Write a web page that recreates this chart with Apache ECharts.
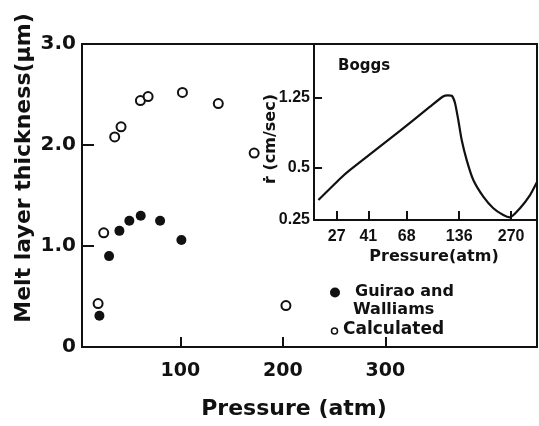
<!DOCTYPE html>
<html><head><meta charset="utf-8">
<script src="https://cdn.jsdelivr.net/npm/echarts@6/dist/echarts.min.js"></script>
<style>html,body{margin:0;padding:0;background:#fff}#c{width:539px;height:426px}</style>
</head><body><div id="c"></div>
<script>
// Main chart: melt layer thickness vs pressure
const guiraoX = [21, 30.4, 40.5, 50.2, 61.3, 80.2, 101];
const guiraoY = [0.31, 0.90, 1.15, 1.25, 1.30, 1.25, 1.06];
const calcX = [19.7, 25.2, 35.9, 42.1, 61, 68.5, 102, 137, 172, 203];
const calcY = [0.43, 1.13, 2.08, 2.18, 2.44, 2.48, 2.52, 2.41, 1.92, 0.41];
const mainXTicks = [100, 200, 300];
const mainYLabels = ['0', '1.0', '2.0', '3.0'];
// Inset (Boggs): burning rate vs pressure, log-log
const boggsP = [21.2, 28.2, 32.2, 62.2, 92.5, 109.9, 117, 123.6, 128.7, 134.4, 140.6, 150.2, 163.9, 187, 213.5, 243.5, 266, 303.6, 346.6, 380];
const boggsR = [0.325, 0.43, 0.483, 0.807, 1.11, 1.27, 1.29, 1.28, 1.166, 0.932, 0.716, 0.55, 0.423, 0.34, 0.292, 0.267, 0.259, 0.292, 0.347, 0.412];
const insetXTicks = [27, 41, 68, 136, 270];
const insetYTicks = [0.25, 0.5, 1.25];

const INK = '#111';
const F = '"DejaVu Sans", sans-serif';
const FL = '"Liberation Sans", sans-serif';
const chart = echarts.init(document.getElementById('c'));
chart.setOption({
  backgroundColor: '#fff',
  animation: false,
  grid: [
    {left: 82, top: 44, right: 2, bottom: 79, show: true, borderColor: INK, borderWidth: 2, backgroundColor: 'transparent'},
    {left: 314, top: 45, right: 2, bottom: 206}
  ],
  xAxis: [
    {type: 'value', gridIndex: 0, min: 4, max: 448,
     axisLine: {show: true, lineStyle: {color: INK, width: 2}},
     axisTick: {show: true, inside: true, length: 10, customValues: mainXTicks, lineStyle: {color: INK, width: 2}},
     axisLabel: {customValues: mainXTicks, color: INK, fontFamily: F, fontWeight: 'bold', fontSize: 19, margin: 15},
     splitLine: {show: false}},
    {type: 'log', gridIndex: 1, min: 20, max: 380, logBase: 10,
     axisLine: {show: true, lineStyle: {color: INK, width: 2}},
     axisTick: {show: true, inside: true, length: 9, customValues: insetXTicks, lineStyle: {color: INK, width: 2}},
     axisLabel: {customValues: insetXTicks, color: INK, fontFamily: FL, fontWeight: 'bold', fontSize: 16, margin: 9},
     splitLine: {show: false}, minorTick: {show: false}}
  ],
  yAxis: [
    {type: 'value', gridIndex: 0, min: 0, max: 3, interval: 1,
     axisLine: {show: true, lineStyle: {color: INK, width: 2}},
     axisTick: {show: true, inside: true, length: 12, lineStyle: {color: INK, width: 2}},
     axisLabel: {color: INK, fontFamily: F, fontWeight: 'bold', fontSize: 20, margin: 6, formatter: v => mainYLabels[Math.round(v)]},
     splitLine: {show: false}},
    {type: 'log', gridIndex: 1, min: 0.25, max: 2.5, logBase: 10,
     axisLine: {show: true, lineStyle: {color: INK, width: 2}},
     axisTick: {show: true, inside: true, length: 8, customValues: insetYTicks, lineStyle: {color: INK, width: 2}},
     axisLabel: {customValues: insetYTicks, color: INK, fontFamily: FL, fontWeight: 'bold', fontSize: 16, margin: 4},
     splitLine: {show: false}, minorTick: {show: false}}
  ],
  series: [
    {type: 'scatter', xAxisIndex: 0, yAxisIndex: 0, symbol: 'circle', symbolSize: 10,
     itemStyle: {color: INK, opacity: 1}, data: guiraoX.map((x, i) => [x, guiraoY[i]])},
    {type: 'scatter', xAxisIndex: 0, yAxisIndex: 0, symbol: 'circle', symbolSize: 9,
     itemStyle: {color: '#fff', borderColor: INK, borderWidth: 2, opacity: 1}, data: calcX.map((x, i) => [x, calcY[i]])},
    {type: 'line', xAxisIndex: 1, yAxisIndex: 1, showSymbol: false, smooth: 0.2,
     lineStyle: {color: INK, width: 2.2}, data: boggsP.map((x, i) => [x, boggsR[i]])}
  ],
  graphic: [
    {type: 'text', x: 24, y: 168, rotation: Math.PI / 2,
     style: {text: 'Melt layer thickness(μm)', font: 'bold 22px ' + F, fill: INK, textAlign: 'center', textVerticalAlign: 'middle'}},
    {type: 'text', x: 294, y: 409,
     style: {text: 'Pressure (atm)', font: 'bold 22px ' + F, fill: INK, textAlign: 'center', textVerticalAlign: 'middle'}},
    {type: 'text', x: 434, y: 257,
     style: {text: 'Pressure(atm)', font: 'bold 16px ' + F, fill: INK, textAlign: 'center', textVerticalAlign: 'middle'}},
    {type: 'text', x: 271, y: 139, rotation: Math.PI / 2,
     style: {text: 'ṙ (cm/sec)', font: 'bold 16px ' + F, fill: INK, textAlign: 'center', textVerticalAlign: 'middle'}},
    {type: 'text', x: 338, y: 66,
     style: {text: 'Boggs', font: 'bold 15px ' + F, fill: INK, textAlign: 'left', textVerticalAlign: 'middle'}},
    {type: 'circle', shape: {cx: 335, cy: 292.5, r: 5}, style: {fill: INK}},
    {type: 'text', x: 355, y: 292,
     style: {text: 'Guirao and', font: 'bold 16px ' + F, fill: INK, textAlign: 'left', textVerticalAlign: 'middle'}},
    {type: 'text', x: 353, y: 310,
     style: {text: 'Walliams', font: 'bold 16px ' + F, fill: INK, textAlign: 'left', textVerticalAlign: 'middle'}},
    {type: 'circle', shape: {cx: 334.5, cy: 331, r: 3}, style: {fill: '#fff', stroke: INK, lineWidth: 1.5}},
    {type: 'text', x: 343, y: 330,
     style: {text: 'Calculated', font: 'bold 17px ' + F, fill: INK, textAlign: 'left', textVerticalAlign: 'middle'}}
  ]
});
</script>
</body></html>
